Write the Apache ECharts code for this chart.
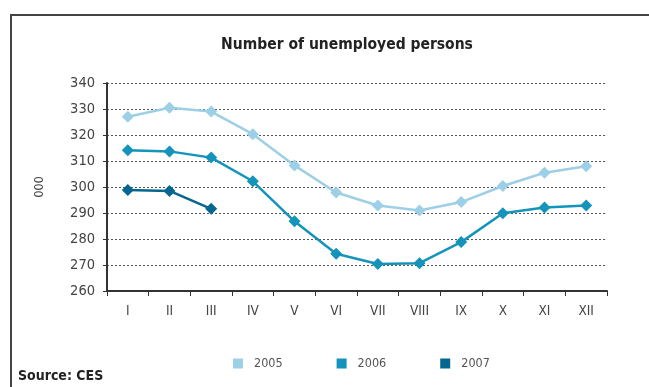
<!DOCTYPE html>
<html>
<head>
<meta charset="utf-8">
<script src="https://cdn.jsdelivr.net/npm/echarts@6/dist/echarts.min.js"></script>
<style>
  html, body { margin: 0; padding: 0; background: #fff; }
  #chart { width: 649px; height: 387px; }
</style>
</head>
<body>
<div id="chart"></div>
<script>
var months = ['I', 'II', 'III', 'IV', 'V', 'VI', 'VII', 'VIII', 'IX', 'X', 'XI', 'XII'];
var y2005 = [327.0, 330.5, 329.0, 320.3, 308.3, 297.9, 292.9, 291.0, 294.2, 300.4, 305.5, 308.0];
var y2006 = [314.1, 313.7, 311.3, 302.2, 286.8, 274.3, 270.4, 270.7, 278.8, 289.9, 292.1, 292.9];
var y2007 = [298.8, 298.5, 291.6];

var font = 'DejaVu Sans Condensed, DejaVu Sans, sans-serif';

var myChart = echarts.init(document.getElementById('chart'));

function line(name, color, data) {
    return {
        name: name,
        type: 'line',
        data: data,
        symbol: 'diamond',
        symbolSize: 12,
        lineStyle: { color: color, width: 2.5 },
        itemStyle: { color: color },
        animation: false
    };
}

var option = {
    backgroundColor: '#fff',
    graphic: [
        {
            type: 'rect',
            shape: { x: 11, y: 15, width: 660, height: 400 },
            style: { fill: 'none', stroke: '#444', lineWidth: 2 }
        },
        {
            type: 'text',
            x: 347,
            y: 45,
            style: {
                text: 'Number of unemployed persons',
                font: 'bold 15.5px ' + font,
                fill: '#222',
                align: 'center',
                verticalAlign: 'middle'
            }
        },
        {
            type: 'text',
            left: 18,
            top: 369,
            style: { text: 'Source: CES', font: 'bold 14px ' + font, fill: '#222' }
        }
    ],
    legend: {
        top: 352,
        left: 228,
        itemWidth: 10,
        itemHeight: 10,
        itemGap: 54,
        icon: 'rect',
        textStyle: { fontFamily: font, fontSize: 12.5, color: '#555', padding: [0, 0, 0, 6] },
        data: ['2005', '2006', '2007']
    },
    grid: {
        left: 107,
        right: 42,
        top: 83,
        bottom: 96
    },
    xAxis: {
        type: 'category',
        data: months,
        axisLine: { lineStyle: { color: '#333', width: 2 } },
        axisTick: { show: true, length: 5, lineStyle: { color: '#333' } },
        axisLabel: { fontFamily: font, fontSize: 13.5, color: '#444', margin: 13 }
    },
    yAxis: {
        type: 'value',
        min: 260,
        max: 340,
        interval: 10,
        name: '000',
        nameLocation: 'middle',
        nameGap: 63,
        nameRotate: 270,
        nameTextStyle: { fontFamily: font, fontSize: 12.5, color: '#444' },
        axisLine: { show: true, lineStyle: { color: '#333', width: 2 } },
        axisTick: { show: true, length: 4, lineStyle: { color: '#333' } },
        axisLabel: { fontFamily: font, fontSize: 14.5, color: '#444', margin: 12 },
        splitLine: { lineStyle: { color: '#555', type: [2, 2], width: 1 } }
    },
    series: [
        line('2005', '#9dcfe6', y2005),
        line('2006', '#1493bb', y2006),
        line('2007', '#05668f', y2007)
    ]
};
myChart.setOption(option);
</script>
</body>
</html>
